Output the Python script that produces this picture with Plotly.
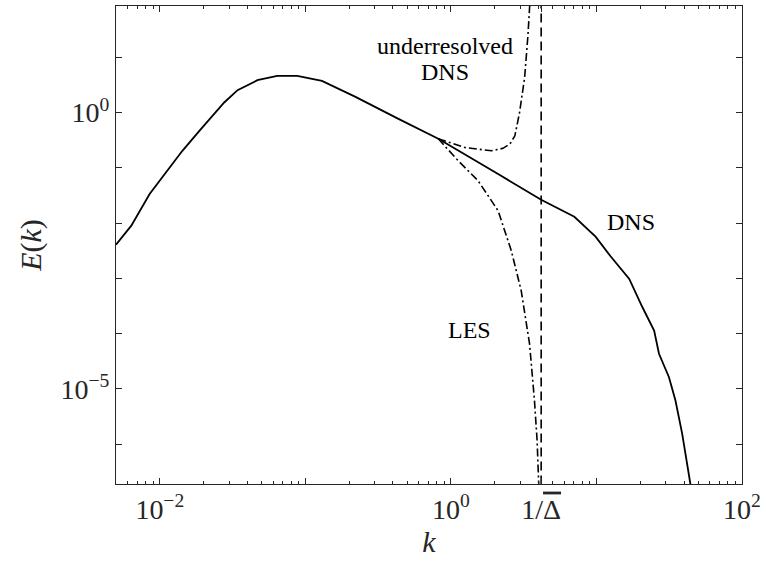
import numpy as np
import plotly.graph_objects as go

# Fully resolved DNS spectrum
k_dns = [0.005, 0.00637, 0.00851, 0.01106, 0.01429, 0.0187, 0.0277, 0.0342, 0.0468,
         0.0641, 0.0879, 0.130, 0.221, 0.436, 0.597, 0.819, 2.11, 4.17, 7.05, 9.86, 12.5,
         16.8, 20.7, 24.9, 26.9, 31.5, 34.9, 38.8, 44.2, 45.4]
E_dns = [0.00406, 0.00896, 0.0335, 0.0824, 0.203, 0.467, 1.52, 2.54, 3.85,
         4.61, 4.61, 3.74, 1.92, 0.769, 0.507, 0.335, 0.0771, 0.0264, 0.0130, 0.00567, 0.00250,
         0.000975, 0.000299, 0.000113, 4.30e-5, 1.62e-5, 6.15e-6, 1.54e-6, 1.89e-7, 1.18e-7]

# Under-resolved DNS: energy piles up near the grid cutoff
k_under = [0.819, 1.247, 1.897, 2.28, 2.55, 2.75, 2.96, 3.21, 3.38, 3.49, 3.51]
E_under = [0.335, 0.233, 0.203, 0.225, 0.272, 0.379, 0.99, 4.29, 24.3, 84.8, 128.0]

# LES: resolved part decays to zero at the filter cutoff
k_les = [0.819, 1.122, 1.537, 2.11, 2.60, 3.04, 3.47, 3.75, 3.91, 4.02, 4.05]
E_les = [0.335, 0.134, 0.0583, 0.0167, 0.00316, 0.000599, 6.52e-5, 6.15e-6, 1.16e-6, 1.89e-7, 9.6e-8]

# Filter cutoff wavenumber 1/Delta
k_cut = 4.17
E_cut_span = [1e-8, 1e3]

x_tickvals = [0.01, 0.1, 1, k_cut, 10, 100]
x_ticktext = ["10<sup>\u22122</sup>", "", "10<sup>0</sup>",
              "1/<span style='text-decoration:overline'>\u0394</span>", "", "10<sup>2</sup>"]
y_tickvals = [1e-7, 1e-6, 1e-5, 1e-4, 1e-3, 1e-2, 1e-1, 1e0, 1e1]
y_ticktext = ["", "", "10<sup>\u22125</sup>", "", "", "", "", "10<sup>0</sup>", ""]

x_minor = [m * 10.0 ** d for d in range(-3, 2) for m in range(2, 10)]

FONT = "Liberation Serif, DejaVu Serif, serif"
INK = "#262626"

fig = go.Figure()
fig.add_trace(go.Scatter(x=k_dns, y=E_dns, mode="lines",
                         line=dict(color="black", width=1.8)))
fig.add_trace(go.Scatter(x=k_under, y=E_under, mode="lines",
                         line=dict(color="black", width=1.6, dash="8px,3px,2px,3px")))
fig.add_trace(go.Scatter(x=k_les, y=E_les, mode="lines",
                         line=dict(color="black", width=1.6, dash="8px,3px,2px,3px")))
fig.add_trace(go.Scatter(x=[k_cut, k_cut], y=E_cut_span, mode="lines",
                         line=dict(color="black", width=1.6, dash="9px,5px")))

fig.update_xaxes(type="log", range=[np.log10(0.005), 2.0],
                 tickmode="array", tickvals=x_tickvals, ticktext=x_ticktext,
                 ticks="inside", ticklen=6, tickwidth=1, tickcolor=INK,
                 minor=dict(tickvals=x_minor, ticks="inside", ticklen=3, tickcolor=INK),
                 showline=True, linecolor=INK, linewidth=1, mirror="allticks",
                 showgrid=False, zeroline=False,
                 tickfont=dict(family=FONT, size=28, color=INK),
                 title=dict(text="<i>k</i>", font=dict(family=FONT, size=30, color=INK),
                            standoff=4))
fig.update_yaxes(type="log", range=[(111.7 - 483.7) / 55.33, (111.7 - 5) / 55.33],
                 tickmode="array", tickvals=y_tickvals, ticktext=y_ticktext,
                 ticks="inside", ticklen=6, tickwidth=1, tickcolor=INK,
                 showline=True, linecolor=INK, linewidth=1, mirror="allticks",
                 showgrid=False, zeroline=False,
                 tickfont=dict(family=FONT, size=28, color=INK),
                 title=dict(text="<i>E</i>(<i>k</i>)", font=dict(family=FONT, size=30, color=INK),
                            standoff=10))

ann_font = dict(family=FONT, size=24, color="black")
labels = [("underresolved", 0.526, 0.9164), ("DNS", 0.526, 0.861),
          ("DNS", 0.823, 0.549), ("LES", 0.564, 0.323)]
for text, ax, ay in labels:
    fig.add_annotation(text=text, x=ax, y=ay, xref="paper", yref="paper",
                       xanchor="center", yanchor="middle",
                       showarrow=False, font=ann_font)

fig.update_layout(width=766, height=563, showlegend=False,
                  margin=dict(l=116, r=20, t=5, b=79),
                  plot_bgcolor="white", paper_bgcolor="white")

fig.write_html("out.html")
